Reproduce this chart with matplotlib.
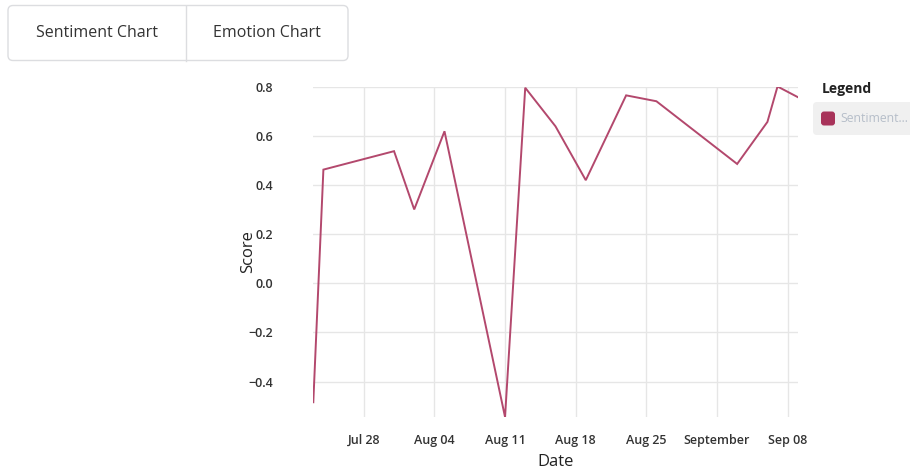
import matplotlib.pyplot as plt
import matplotlib.patches as patches
import numpy as np

plt.rcParams['font.family'] = ['Open Sans', 'DejaVu Sans']

# Daily sentiment scores
dates = np.array([
    '2024-07-23', '2024-07-24', '2024-07-31', '2024-08-02', '2024-08-05',
    '2024-08-11', '2024-08-13', '2024-08-16', '2024-08-19', '2024-08-23',
    '2024-08-26', '2024-09-03', '2024-09-06', '2024-09-07', '2024-09-09',
], dtype='datetime64[D]')
scores = [-0.484, 0.462, 0.537, 0.300, 0.618,
          -0.544, 0.795, 0.638, 0.419, 0.764,
          0.740, 0.485, 0.656, 0.800, 0.757]

tick_dates = np.array(['2024-07-28', '2024-08-04', '2024-08-11', '2024-08-18',
                       '2024-08-25', '2024-09-01', '2024-09-08'], dtype='datetime64[D]')
tick_labels = ['Jul 28', 'Aug 04', 'Aug 11', 'Aug 18', 'Aug 25', 'September', 'Sep 08']
y_ticks = [-0.4, -0.2, 0.0, 0.2, 0.4, 0.6, 0.8]

line_color = '#b3486d'
W, H = 910, 472

fig = plt.figure(figsize=(W / 100, H / 100), dpi=100)
fig.patch.set_facecolor('white')

# plot area in pixel coords
left, right, top, bottom = 313.3, 797.7, 86.5, 417.0
ax = fig.add_axes([left / W, 1 - bottom / H, (right - left) / W, (bottom - top) / H])
ax.plot(dates, scores, color=line_color, lw=1.4, solid_joinstyle='miter')
ax.set_xlim(dates[0], dates[-1])
ax.set_ylim(min(scores), max(scores))

ax.set_xticks(tick_dates)
ax.set_xticklabels(tick_labels)
ax.set_yticks(y_ticks)
ax.set_yticklabels(['\u22120.4', '\u22120.2', '0.0', '0.2', '0.4', '0.6', '0.8'])
ax.grid(True, color='#e6e6e6', lw=1)
ax.set_axisbelow(True)
for s in ax.spines.values():
    s.set_visible(False)
ax.tick_params(length=0, labelsize=9, labelcolor='#333333')
ax.tick_params(axis='x', pad=12)
ax.tick_params(axis='y', pad=29)
for lbl in ax.get_xticklabels() + ax.get_yticklabels():
    lbl.set_fontweight('semibold')

ax.set_xlabel('Date', fontsize=12, color='#222222', labelpad=5)
ax.set_ylabel('Score', fontsize=12, color='#222222', labelpad=-6)

# overlay for the tab buttons and legend, in pixel coords (y down)
ov = fig.add_axes([0, 0, 1, 1], zorder=-1)
ov.set_xlim(0, W)
ov.set_ylim(H, 0)
ov.axis('off')

tab = patches.FancyBboxPatch((8, 5.5), 340, 55, boxstyle='round,pad=0,rounding_size=5',
                             facecolor='white', edgecolor='#dcdde0', lw=1)
ov.add_patch(tab)
ov.plot([185.5, 185.5], [5.5, 60.5], color='#dcdde0', lw=1)
ov.text(96.5, 33, 'Sentiment Chart', ha='center', va='center', fontsize=11.5, color='#333333')
ov.text(266.5, 33, 'Emotion Chart', ha='center', va='center', fontsize=11.5, color='#333333')

# legend
ov.text(822, 89, 'Legend', ha='left', va='center', fontsize=10, fontweight='bold', color='#222222')
leg_bg = patches.FancyBboxPatch((813, 102), 100, 33, boxstyle='round,pad=0,rounding_size=4',
                                facecolor='#f0f0f0', edgecolor='none')
ov.add_patch(leg_bg)
sw = patches.FancyBboxPatch((821, 111.5), 14, 14, boxstyle='round,pad=0,rounding_size=3',
                            facecolor='#a8335a', edgecolor='none')
ov.add_patch(sw)
ov.text(840, 119, 'Sentiment...', ha='left', va='center', fontsize=8.8, color='#b6bec9')

fig.savefig('out.png', dpi=100)
